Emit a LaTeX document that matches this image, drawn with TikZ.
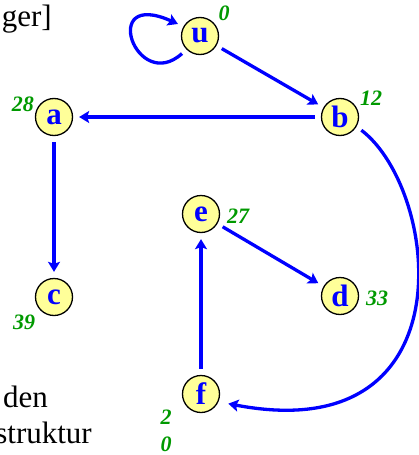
\documentclass[tikz,border=0pt]{standalone}
\usepackage{fontspec}
\setmainfont{Liberation Serif}
\usetikzlibrary{arrows.meta}
\definecolor{nodefill}{RGB}{255,255,153}
\definecolor{distgreen}{RGB}{0,153,0}
\tikzset{
  vert/.style={circle, draw=black, line width=1.3pt, fill=nodefill, minimum size=37pt,
    inner sep=0pt, text=blue, font=\fontsize{31}{31}\selectfont\bfseries},
  dist/.style={text=distgreen, font=\fontsize{22}{27}\selectfont\bfseries\itshape, inner sep=0pt},
  edge/.style={blue, line width=3.3pt, -{Stealth[length=10pt,width=12pt,inset=2pt]},
    shorten <=6pt, shorten >=6pt},
  note/.style={font=\fontsize{31}{36}\selectfont, inner sep=0pt}
}

\begin{document}
\begin{tikzpicture}[x=1pt,y=1pt]
  \useasboundingbox (0,0) rectangle (418,-455);
  % cut-off text on the left
  \node[note, anchor=base east] (txtger) at (52,-27) {ger]};
  \node[note, anchor=base east] (txtden) at (48,-407) {den};
  \node[note, anchor=base east] (txtstr) at (92,-443) {struktur};
  % vertices
  \node[vert] (u) at (200,-36) {u};
  \node[vert] (b) at (340,-117) {b};
  \node[vert] (a) at (54,-117) {a};
  \node[vert] (c) at (54,-297) {c};
  \node[vert] (e) at (201,-214) {e};
  \node[vert] (d) at (340,-296) {d};
  \node[vert] (f) at (201,-394) {f};
  % distances
  \node[dist] (du) at (224,-13) {0};
  \node[dist] (db) at (371,-98) {12};
  \node[dist] (da) at (23,-104) {28};
  \node[dist] (de) at (238,-216) {27};
  \node[dist] (dd) at (377,-298) {33};
  \node[dist] (dc) at (24,-322) {39};
  \node[dist, align=center] (df) at (166,-431) {2\\0};
  % edges
  \draw[edge] (u.225) .. controls +(-50,-45) and +(-85,38) .. (u.150);
  \draw[edge] (u) -- (b);
  \draw[edge] (b) -- (a);
  \draw[edge] (a) -- (c);
  \draw[edge] (e) -- (d);
  \draw[edge] (f) -- (e);
  \draw[edge, shorten >=10pt] (b.-30) .. controls (440,-190) and (470,-450) .. (f.-24);
\end{tikzpicture}
\end{document}
